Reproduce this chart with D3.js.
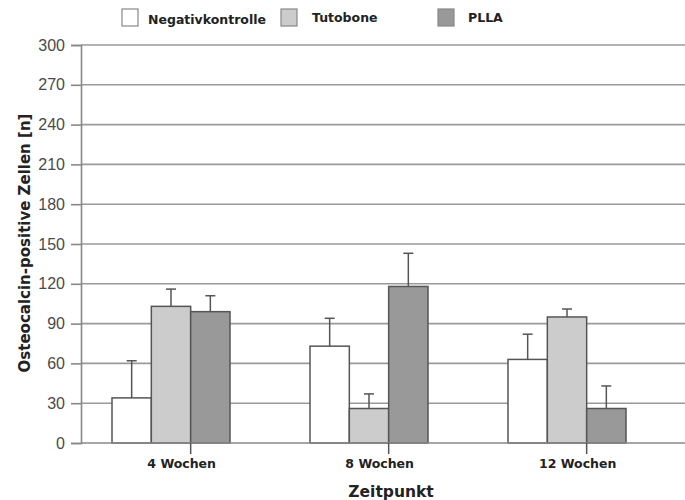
<!DOCTYPE html>
<html>
<head>
<meta charset="utf-8">
<script src="https://cdn.jsdelivr.net/npm/d3@7"></script>
<style>
  body { margin: 0; background: #fff; }
  svg { display: block; }
</style>
</head>
<body>
<div id="chart"></div>
<script>
const timepoints = ['4 Wochen', '8 Wochen', '12 Wochen'];
const groups = ['Negativkontrolle', 'Tutobone', 'PLLA'];
const negativ = [34, 73, 63];
const negativErr = [28, 21, 19];
const tutobone = [103, 26, 95];
const tutoboneErr = [13, 11, 6];
const plla = [99, 118, 26];
const pllaErr = [12, 25, 17];
const yTicks = [0, 30, 60, 90, 120, 150, 180, 210, 240, 270, 300];
const fills = ['#ffffff', '#cccccc', '#999999'];

const series = [
  { name: groups[0], vals: negativ, err: negativErr },
  { name: groups[1], vals: tutobone, err: tutoboneErr },
  { name: groups[2], vals: plla, err: pllaErr }
];

const W = 685, H = 500;
const svg = d3.select('#chart').append('svg').attr('width', W).attr('height', H);

const x0 = d3.scaleBand().domain(timepoints).range([81, 675]);
const x1 = d3.scaleBand().domain(groups).range([31, 149]);
const y = d3.scaleLinear().domain([0, 300]).range([443, 45]);
const color = d3.scaleOrdinal().domain(groups).range(fills);

// gridlines
svg.append('g').selectAll('line')
  .data(yTicks.filter(t => t > 0))
  .enter().append('line')
  .attr('x1', 81).attr('x2', W)
  .attr('y1', d => y(d)).attr('y2', d => y(d))
  .attr('stroke', '#9a9a9a').attr('stroke-width', 1.6);

// y axis
const yAxis = svg.append('g').attr('transform', 'translate(81,0)')
  .call(d3.axisLeft(y).tickValues(yTicks).tickSize(10).tickPadding(6));
yAxis.select('.domain').attr('stroke', '#888').attr('stroke-width', 1.6);
yAxis.selectAll('.tick line').attr('stroke', '#888').attr('stroke-width', 1.6);
yAxis.selectAll('.tick text')
  .attr('font-family', 'Liberation Sans, Arial, sans-serif')
  .attr('font-size', 16).attr('fill', '#4a4a4a');

// bars
series.forEach(s => {
  svg.append('g').selectAll('rect')
    .data(timepoints.map((t, i) => ({ t, v: s.vals[i], e: s.err[i] })))
    .enter().append('rect')
    .attr('x', d => x0(d.t) + x1(s.name))
    .attr('y', d => y(d.v))
    .attr('width', x1.bandwidth())
    .attr('height', d => y(0) - y(d.v))
    .attr('fill', color(s.name))
    .attr('stroke', '#555').attr('stroke-width', 1.5);
});

// error bars
series.forEach(s => {
  const g = svg.append('g');
  timepoints.forEach((t, i) => {
    const cx = x0(t) + x1(s.name) + x1.bandwidth() / 2;
    g.append('line')
      .attr('x1', cx).attr('x2', cx)
      .attr('y1', y(s.vals[i])).attr('y2', y(s.vals[i] + s.err[i]))
      .attr('stroke', '#555').attr('stroke-width', 1.5);
    g.append('line')
      .attr('x1', cx - 5).attr('x2', cx + 5)
      .attr('y1', y(s.vals[i] + s.err[i])).attr('y2', y(s.vals[i] + s.err[i]))
      .attr('stroke', '#555').attr('stroke-width', 1.5);
  });
});

// baseline + x ticks
svg.append('line')
  .attr('x1', 81).attr('x2', W).attr('y1', y(0)).attr('y2', y(0))
  .attr('stroke', '#888').attr('stroke-width', 1.6);
timepoints.forEach(t => {
  const tx = x0(t) + x1('PLLA');
  svg.append('line')
    .attr('x1', tx).attr('x2', tx).attr('y1', y(0)).attr('y2', y(0) + 11)
    .attr('stroke', '#555').attr('stroke-width', 1.5);
  svg.append('text')
    .attr('x', tx - 9).attr('y', 468)
    .attr('text-anchor', 'middle')
    .attr('font-family', 'DejaVu Sans, Verdana, sans-serif')
    .attr('font-weight', 'bold').attr('font-size', 12.5)
    .attr('fill', '#222')
    .text(t);
});

// axis titles
svg.append('text')
  .attr('x', 391).attr('y', 497)
  .attr('text-anchor', 'middle')
  .attr('font-family', 'DejaVu Sans, Verdana, sans-serif')
  .attr('font-weight', 'bold').attr('font-size', 15.5)
  .attr('fill', '#222')
  .text('Zeitpunkt');

svg.append('text')
  .attr('transform', 'translate(30,243) rotate(-90)')
  .attr('text-anchor', 'middle')
  .attr('font-family', 'DejaVu Sans, Verdana, sans-serif')
  .attr('font-weight', 'bold').attr('font-size', 15)
  .attr('fill', '#222')
  .text('Osteocalcin-positive Zellen [n]');

// legend
const legendX = [122, 281, 438];
const legendTextX = [148, 312, 468];
groups.forEach((g, i) => {
  svg.append('rect')
    .attr('x', legendX[i]).attr('y', 9)
    .attr('width', 16).attr('height', 17)
    .attr('fill', color(g))
    .attr('stroke', '#888').attr('stroke-width', 1.2);
  svg.append('text')
    .attr('x', legendTextX[i]).attr('y', i === 0 ? 24 : 22)
    .attr('font-family', 'DejaVu Sans, Verdana, sans-serif')
    .attr('font-weight', 'bold').attr('font-size', 12.5)
    .attr('fill', '#222')
    .text(g);
});
</script>
</body>
</html>
